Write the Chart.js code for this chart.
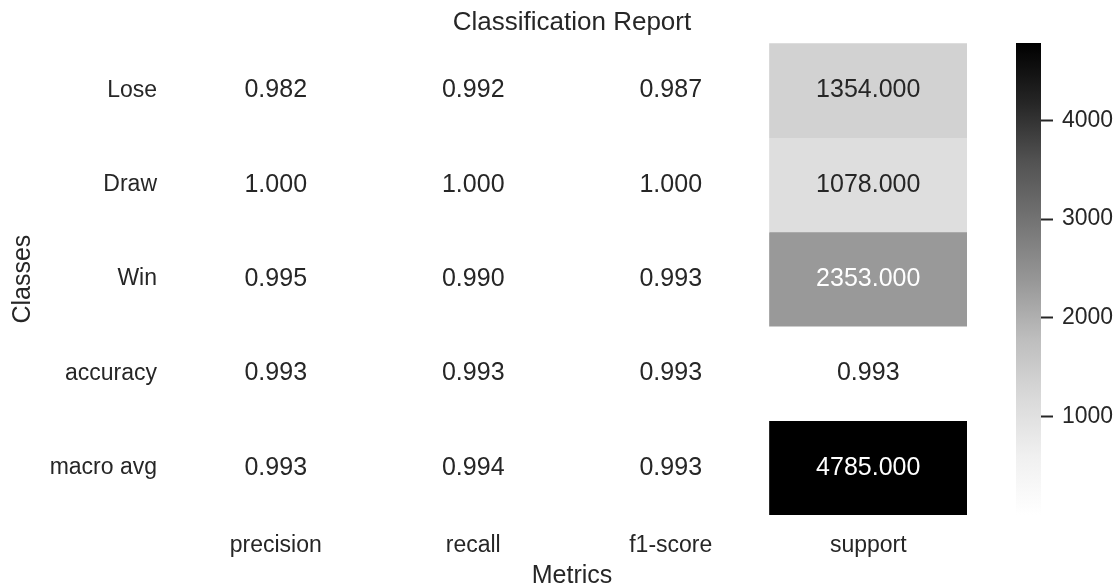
<!DOCTYPE html>
<html>
<head>
<meta charset="utf-8">
<title>Classification Report</title>
<script src="https://cdn.jsdelivr.net/npm/chart.js@4.4.1/dist/chart.umd.min.js"></script>
<style>
    html, body { margin: 0; padding: 0; background: #fff; overflow: hidden; }
    #wrap { position: relative; width: 1119px; height: 587px; }
    #heat { position: absolute; left: 0; top: 0; }
    #cbar { position: absolute; left: 990px; top: 0; }
</style>
</head>
<body>
<div id="wrap">
    <canvas id="heat" width="990" height="587"></canvas>
    <canvas id="cbar" width="129" height="587"></canvas>
</div>
<script>
// =====================
// DATA
// =====================
const classes = ["Lose", "Draw", "Win", "accuracy", "macro avg"];
const metrics = ["precision", "recall", "f1-score", "support"];

const precision = [0.982, 1.000, 0.995, 0.993, 0.993];
const recall    = [0.992, 1.000, 0.990, 0.993, 0.994];
const f1score   = [0.987, 1.000, 0.993, 0.993, 0.993];
const support   = [1354, 1078, 2353, 0.993, 4785];

const cbarTicks = [1000, 2000, 3000, 4000];

// =====================
// COLOUR SCALE (Greys, white -> black)
// =====================
const columns = [precision, recall, f1score, support];
const allValues = columns.flat();
const vmin = Math.min(...allValues);
const vmax = Math.max(...allValues);

const GREYS = [255, 240, 217, 189, 150, 115, 82, 37, 0];
const FONT = '"Liberation Sans", Arial, Helvetica, sans-serif';
const INK = "#262626";

function greyLevel(v) {
    const t = Math.min(1, Math.max(0, (v - vmin) / (vmax - vmin)));
    const pos = t * (GREYS.length - 1);
    const i = Math.min(Math.floor(pos), GREYS.length - 2);
    const f = pos - i;
    return Math.round(GREYS[i] + (GREYS[i + 1] - GREYS[i]) * f);
}

function greyColor(v) {
    const g = greyLevel(v);
    return `rgb(${g},${g},${g})`;
}

// white text on dark cells, dark text on light ones
function textColor(v) {
    const c = greyLevel(v) / 255;
    const lin = c <= 0.03928 ? c / 12.92 : Math.pow((c + 0.055) / 1.055, 2.4);
    return lin < 0.408 ? "#ffffff" : INK;
}

// =====================
// HEATMAP
// =====================
const datasets = classes.map((name, r) => ({
    label: name,
    data: metrics.map(() => [r, r + 1]),
    backgroundColor: columns.map(col => greyColor(col[r])),
    borderWidth: 0,
    barPercentage: 1,
    categoryPercentage: 1,
    grouped: false
}));

// numbers written in each cell
const cellText = {
    id: "cellText",
    afterDatasetsDraw(chart) {
        const ctx = chart.ctx;
        ctx.save();
        ctx.font = `25px ${FONT}`;
        ctx.textAlign = "center";
        ctx.textBaseline = "middle";
        chart.data.datasets.forEach((ds, r) => {
            chart.getDatasetMeta(r).data.forEach((bar, c) => {
                const v = columns[c][r];
                ctx.fillStyle = textColor(v);
                ctx.fillText(v.toFixed(3), bar.x, (bar.y + bar.base) / 2);
            });
        });
        ctx.restore();
    }
};

new Chart(document.getElementById("heat"), {
    type: "bar",
    data: { labels: metrics, datasets },
    options: {
        responsive: false,
        animation: false,
        layout: { padding: { left: 0, right: 23, top: 0, bottom: 0 } },
        plugins: {
            legend: { display: false },
            tooltip: { enabled: false },
            title: {
                display: true,
                fullSize: false,
                text: "Classification Report",
                color: INK,
                font: { family: FONT, size: 26, weight: "normal" },
                padding: { top: 7, bottom: 5 }
            }
        },
        scales: {
            x: {
                grid: { display: false, drawTicks: false },
                border: { display: false },
                ticks: { color: INK, font: { family: FONT, size: 23 }, padding: 17 },
                title: {
                    display: true,
                    text: "Metrics",
                    color: INK,
                    font: { family: FONT, size: 25 },
                    padding: { top: 0, bottom: -4 }
                },
                afterFit: s => { s.height = 72; }
            },
            y: {
                type: "linear",
                min: 0,
                max: classes.length,
                reverse: true,
                grid: { display: false, drawTicks: false },
                border: { display: false },
                afterBuildTicks: s => {
                    s.ticks = classes.map((_, i) => ({ value: i + 0.5 }));
                },
                ticks: {
                    color: INK,
                    font: { family: FONT, size: 23 },
                    padding: 20,
                    callback: (v, i) => classes[i]
                },
                title: {
                    display: true,
                    text: "Classes",
                    color: INK,
                    font: { family: FONT, size: 25 },
                    padding: { top: 8, bottom: 0 }
                },
                afterFit: s => { s.width = 177; }
            }
        }
    },
    plugins: [cellText]
});

// =====================
// COLORBAR
// =====================
function cbarGradient(context) {
    const chart = context.chart;
    const { ctx, chartArea, scales } = chart;
    if (!chartArea) return null;
    const y0 = scales.y.getPixelForValue(vmin);
    const y1 = scales.y.getPixelForValue(vmax);
    const g = ctx.createLinearGradient(0, y0, 0, y1);
    GREYS.forEach((lv, i) => g.addColorStop(i / (GREYS.length - 1), `rgb(${lv},${lv},${lv})`));
    return g;
}

new Chart(document.getElementById("cbar"), {
    type: "bar",
    data: {
        labels: [""],
        datasets: [{
            data: [[vmin, vmax]],
            backgroundColor: cbarGradient,
            borderWidth: 0,
            barPercentage: 1,
            categoryPercentage: 1
        }]
    },
    options: {
        responsive: false,
        animation: false,
        layout: { padding: { left: 26, right: 0, top: 43, bottom: 72 } },
        plugins: {
            legend: { display: false },
            tooltip: { enabled: false }
        },
        scales: {
            x: { display: false },
            y: {
                position: "right",
                min: vmin,
                max: vmax,
                grid: {
                    drawOnChartArea: false,
                    drawTicks: true,
                    tickLength: 12,
                    tickWidth: 2,
                    tickColor: INK
                },
                border: { display: false },
                afterBuildTicks: s => {
                    s.ticks = cbarTicks.map(v => ({ value: v }));
                },
                ticks: {
                    color: INK,
                    font: { family: FONT, size: 23 },
                    padding: 9,
                    callback: v => String(v)
                },
                afterFit: s => { s.width = 78; }
            }
        }
    }
});
</script>
</body>
</html>
